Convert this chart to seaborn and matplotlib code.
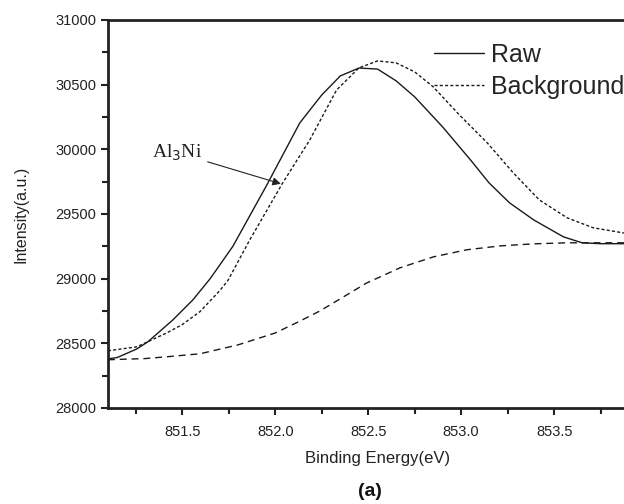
import pandas as pd
import seaborn as sns
import matplotlib.pyplot as plt
from matplotlib.ticker import FixedLocator, MultipleLocator

# values
RAW_E = [851.10, 851.15, 851.256, 851.315, 851.45, 851.557, 851.65, 851.772,
         851.955, 852.132, 852.25, 852.35, 852.45, 852.55, 852.65, 852.75,
         852.90, 853.05, 853.15, 853.26, 853.39, 853.55, 853.65, 853.75, 853.95]
RAW_I = [28380, 28390, 28457, 28512, 28682, 28836, 29000, 29250,
         29725, 30204, 30420, 30567, 30628, 30620, 30529, 30405,
         30173, 29918, 29740, 29586, 29454, 29323, 29277, 29270, 29270]

FIT_E = [851.10, 851.256, 851.417, 851.50, 851.595, 851.70, 851.745, 851.863,
         852.04, 852.186, 852.33, 852.45, 852.55, 852.65, 852.75, 852.85,
         852.99, 853.14, 853.28, 853.42, 853.57, 853.71, 853.87, 853.95]
FIT_I = [28442, 28473, 28581, 28645, 28745, 28905, 28985, 29300,
         29740, 30073, 30459, 30629, 30683, 30668, 30598, 30482,
         30266, 30050, 29818, 29609, 29470, 29393, 29354, 29340]

BG_E = [851.10, 851.30, 851.417, 851.595, 851.80, 852.00, 852.13, 852.24,
        852.31, 852.49, 852.67, 852.85, 853.03, 853.21, 853.39, 853.57,
        853.75, 853.95]
BG_I = [28373, 28382, 28396, 28419, 28488, 28580, 28670, 28750,
        28810, 28965, 29083, 29168, 29223, 29253, 29269, 29277,
        29277, 29277]

XTICKS = [851.5, 852.0, 852.5, 853.0, 853.5]


def main():
    raw = pd.DataFrame({"energy": RAW_E, "intensity": RAW_I})
    fit = pd.DataFrame({"energy": FIT_E, "intensity": FIT_I})
    bg = pd.DataFrame({"energy": BG_E, "intensity": BG_I})

    sns.set_style("ticks")
    plt.rcParams["font.family"] = ["Liberation Sans", "DejaVu Sans"]

    fig = plt.figure(figsize=(6.24, 5.04), dpi=100)
    ax = fig.add_axes([0.173, 0.1905, 0.864, 0.770])

    sns.lineplot(data=raw, x="energy", y="intensity", ax=ax, color="#1a1a1a",
                 lw=1.0, label="Raw", sort=False)
    sns.lineplot(data=fit, x="energy", y="intensity", ax=ax, color="#1a1a1a",
                 lw=1.0, label="Background", sort=False)
    sns.lineplot(data=bg, x="energy", y="intensity", ax=ax, color="#1a1a1a",
                 lw=1.0, sort=False)
    lines = ax.get_lines()
    lines[1].set_dashes((2.2, 1.6))
    lines[2].set_dashes((5, 3.5))

    ax.set_xlim(851.1, 854.0)
    ax.set_ylim(28000, 31000)
    ax.xaxis.set_major_locator(FixedLocator(XTICKS))
    ax.xaxis.set_minor_locator(FixedLocator([851.25, 851.75, 852.25, 852.75,
                                             853.25, 853.75]))
    ax.yaxis.set_major_locator(MultipleLocator(500))
    ax.yaxis.set_minor_locator(MultipleLocator(250))
    ax.xaxis.set_major_formatter(plt.FormatStrFormatter("%.1f"))
    ax.tick_params(axis="both", which="major", direction="out", length=5,
                   width=1.5, labelsize=10.5, color="#222222", labelcolor="#222222")
    ax.tick_params(axis="both", which="minor", direction="out", length=4,
                   width=1.5, color="#222222")
    ax.tick_params(axis="x", pad=7)
    for s in ["left", "bottom", "top", "right"]:
        ax.spines[s].set_linewidth(2)
        ax.spines[s].set_color("#222222")

    ax.set_xlabel("Binding Energy(eV)", fontsize=12, color="#222222", labelpad=9)
    ax.set_ylabel("Intensity(a.u.)", fontsize=11.5, color="#222222", labelpad=19)

    ax.annotate("Al$_3$Ni", xy=(852.03, 29733), xytext=(851.335, 29975),
                fontsize=14, family="Liberation Serif", color="#222222",
                ha="left", va="center",
                arrowprops=dict(arrowstyle="-|>", color="#222222", lw=0.8,
                                mutation_scale=12, shrinkA=2, shrinkB=0))

    ax.legend(loc="upper left", bbox_to_anchor=(0.586, 0.966), frameon=False,
              fontsize=18, handlelength=2.0, handletextpad=0.3,
              labelspacing=0.32, borderaxespad=0)

    fig.text(0.593, 0.024, "(a)", fontsize=14, fontweight="bold",
             color="#111111", ha="center", va="center")

    fig.savefig("out.png", dpi=100, facecolor="white")


if __name__ == "__main__":
    main()
